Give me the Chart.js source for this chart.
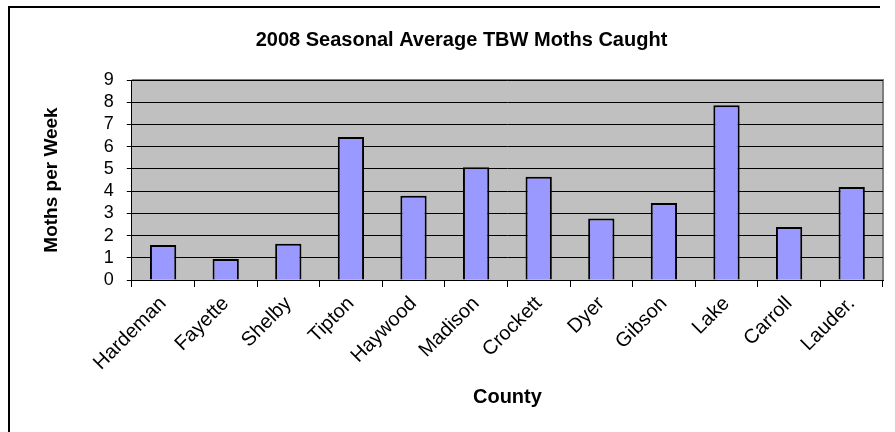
<!DOCTYPE html>
<html>
<head>
<meta charset="utf-8">
<title>2008 Seasonal Average TBW Moths Caught</title>
<script src="https://cdn.jsdelivr.net/npm/chart.js@4.4.1/dist/chart.umd.min.js"></script>
<style>
    body { margin: 0; background: #fff; }
    #wrap { position: relative; width: 895px; height: 432px; }
    #frame {
        position: absolute; left: 8px; top: 6px; width: 870px; height: 430px;
        border-left: 2px solid #000; border-top: 2px solid #000;
        pointer-events: none;
    }
    canvas { position: absolute; left: 0; top: 0; }
</style>
</head>
<body>
<div id="wrap">
    <canvas id="barra" width="895" height="432"></canvas>
    <div id="frame"></div>
</div>
<script>
// promedio de palomillas por semana, temporada 2008
var condados = ['Hardeman', 'Fayette', 'Shelby', 'Tipton', 'Haywood', 'Madison',
                'Crockett', 'Dyer', 'Gibson', 'Lake', 'Carroll', 'Lauder.'];
var polillas = [1.58, 0.94, 1.63, 6.44, 3.79, 5.07, 4.65, 2.77, 3.46, 7.86, 2.39, 4.19];
var marcasY = [0, 1, 2, 3, 4, 5, 6, 7, 8, 9];

var fuente = "'Liberation Sans', Arial, sans-serif";

// fondo gris del area de graficado
var fondoArea = {
    id: 'fondoArea',
    beforeDraw: function (chart) {
        var a = chart.chartArea;
        var c = chart.ctx;
        c.save();
        c.fillStyle = '#C0C0C0';
        c.fillRect(a.left, a.top, a.right - a.left, a.bottom - a.top);
        c.strokeStyle = '#808080';
        c.lineWidth = 2;
        c.beginPath();
        c.moveTo(a.left, a.top);
        c.lineTo(a.right, a.top);
        c.lineTo(a.right, a.bottom);
        c.stroke();
        c.restore();
    }
};

var ctx = document.getElementById('barra');
var barra = new Chart(ctx, {
    type: 'bar',
    data: {
        labels: condados,
        datasets: [{
            data: polillas,
            backgroundColor: '#9999FF',
            borderColor: '#000000',
            borderWidth: 2,
            barPercentage: 0.42,
            categoryPercentage: 1
        }]
    },
    options: {
        responsive: false,
        animation: false,
        layout: { padding: { left: 40, right: 12, top: 18, bottom: 23 } },
        plugins: {
            legend: { display: false },
            tooltip: { enabled: false },
            title: {
                display: true,
                text: '2008 Seasonal Average TBW Moths Caught',
                color: '#000',
                font: { family: fuente, size: 20, weight: 'bold' },
                padding: { top: 10, bottom: 28 }
            }
        },
        scales: {
            x: {
                grid: {
                    offset: true,
                    drawOnChartArea: false,
                    color: '#000',
                    tickLength: 7
                },
                border: { color: '#000', width: 1 },
                ticks: {
                    color: '#000',
                    font: { family: fuente, size: 20 },
                    minRotation: 45,
                    maxRotation: 45,
                    autoSkip: false,
                    padding: 5
                },
                title: {
                    display: true,
                    text: 'County',
                    color: '#000',
                    font: { family: fuente, size: 20, weight: 'bold' },
                    padding: { top: 5, bottom: 0 }
                }
            },
            y: {
                min: 0,
                max: 9,
                afterBuildTicks: function (axis) {
                    axis.ticks = marcasY.map(function (v) { return { value: v }; });
                },
                grid: {
                    color: '#000',
                    lineWidth: 1,
                    tickLength: 5
                },
                border: { color: '#000', width: 1 },
                ticks: {
                    color: '#000',
                    font: { family: fuente, size: 18 },
                    autoSkip: false,
                    padding: 13
                },
                title: {
                    display: true,
                    text: 'Moths per Week',
                    color: '#000',
                    font: { family: fuente, size: 19, weight: 'bold' },
                    padding: { top: 0, bottom: 28 }
                }
            }
        }
    },
    plugins: [fondoArea]
});
</script>
</body>
</html>
